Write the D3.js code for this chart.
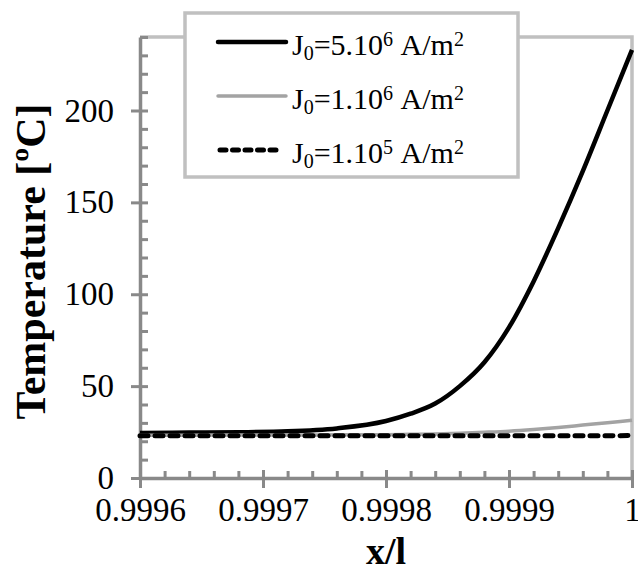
<!DOCTYPE html>
<html>
<head>
<meta charset="utf-8">
<script src="https://cdn.jsdelivr.net/npm/d3@7/dist/d3.min.js"></script>
<style>
  body { margin: 0; background: #fff; }
  svg text { font-family: 'Times New Roman', Tinos, 'Liberation Serif', serif; }
</style>
</head>
<body>
<div class="chart"></div>
<script>
// data
const xValues = [0.9996, 0.99964, 0.99968, 0.99972, 0.99976, 0.9998, 0.99982, 0.99984,
    0.99986, 0.99988, 0.9999, 0.99992, 0.99994, 0.99996, 0.99998, 1];
const tempJ5e6 = [24.5, 24.7, 24.9, 25.4, 27, 31, 35, 40.5, 50, 63, 82, 107, 136, 167, 200, 233];
const tempJ1e6 = [23.3, 23.3, 23.4, 23.4, 23.5, 23.6, 23.8, 24, 24.4, 24.9, 25.5, 26.4, 27.5, 28.8, 30.1, 31.4];
const tempJ1e5 = [23, 23, 23, 23, 23, 23, 23, 23, 23, 23, 23, 23, 23, 23, 23, 23.1];
const xTicks = [0.9996, 0.9997, 0.9998, 0.9999, 1];
const yTicks = [0, 50, 100, 150, 200];
const yMax = 240;
const legendMain = ['5.10', '1.10', '1.10'];
const legendExp = ['6', '6', '5'];

const margin = { top: 37, left: 140, bottom: 95, right: 6 };
const width = 638 - margin.left - margin.right;
const height = 573 - margin.top - margin.bottom;

const serif = "'Times New Roman', Tinos, 'Liberation Serif', serif";
const axisColor = '#898989';
const borderColor = '#c0c0c0';

const root = d3.select('.chart')
    .append('svg')
    .attr('width', 638)
    .attr('height', 573);

const svg = root.append('g')
    .attr('transform', `translate(${margin.left}, ${margin.top})`);

// scales
const xScale = d3.scaleLinear().domain([0.9996, 1]).range([0, width]);
const yScale = d3.scaleLinear().domain([0, yMax]).range([height, 0]);

const xMinor = d3.range(0, 21).map(i => 0.9996 + i * 0.00002);
const yMinor = d3.range(0, yMax + 1, 10);

// plot border (top + right)
svg.append('path')
    .attr('d', `M0,0H${width}V${height}`)
    .style('fill', 'none')
    .style('stroke', borderColor)
    .style('stroke-width', 3.5);

const styleAxis = g => {
    g.attr('font-family', serif).attr('font-size', 33);
    g.selectAll('.domain').style('stroke', axisColor).style('stroke-width', 3.5);
    g.selectAll('.tick line').style('stroke', axisColor).style('stroke-width', 3);
    g.selectAll('.tick text').style('fill', '#000').style('font-family', serif);
};

// x axis
svg.append('g')
    .attr('transform', `translate(0, ${height})`)
    .call(d3.axisBottom(xScale).tickValues(xMinor).tickSize(-7).tickFormat(''))
    .call(g => g.select('.domain').remove())
    .call(styleAxis);

svg.append('g')
    .attr('transform', `translate(0, ${height})`)
    .call(d3.axisBottom(xScale).tickValues(xTicks).tickSize(-8).tickFormat(''))
    .call(g => g.select('.domain').remove())
    .call(styleAxis);

svg.append('g')
    .attr('transform', `translate(0, ${height})`)
    .call(d3.axisBottom(xScale)
        .tickValues(xTicks)
        .tickSize(10)
        .tickSizeOuter(0)
        .tickPadding(10)
        .tickFormat(d => d === 1 ? '1' : d3.format('.4f')(d)))
    .call(styleAxis);

// y axis
svg.append('g')
    .call(d3.axisLeft(yScale).tickValues(yMinor).tickSize(-8).tickFormat(''))
    .call(g => g.select('.domain').remove())
    .call(styleAxis);

svg.append('g')
    .call(d3.axisLeft(yScale)
        .tickValues(yTicks)
        .tickSize(9)
        .tickSizeOuter(0)
        .tickPadding(17))
    .call(styleAxis);

// axis titles
svg.append('text')
    .attr('x', width / 2)
    .attr('y', height + 86)
    .attr('text-anchor', 'middle')
    .style('font-family', serif)
    .style('font-size', '38px')
    .style('font-weight', 'bold')
    .text('x/l');

svg.append('text')
    .attr('transform', `translate(${45 - margin.left}, ${height / 2 + 4}) rotate(-90)`)
    .attr('text-anchor', 'middle')
    .style('font-family', serif)
    .style('font-size', '42px')
    .style('font-weight', 'bold')
    .text('Temperature [ºC]');

// lines
const lineGen = d3.line()
    .x((d, i) => xScale(xValues[i]))
    .y(d => yScale(d))
    .curve(d3.curveMonotoneX);

const series = [
    { values: tempJ5e6, stroke: '#000', width: 4.5, dash: null },
    { values: tempJ1e6, stroke: '#a3a3a3', width: 3.5, dash: null },
    { values: tempJ1e5, stroke: '#000', width: 5, dash: '8,7' }
];

svg.append('g')
    .attr('class', 'line-chart')
    .selectAll('.line-series')
    .data(series)
    .enter()
    .append('path')
    .attr('class', 'line-series')
    .attr('d', d => lineGen(d.values))
    .style('fill', 'none')
    .style('stroke', d => d.stroke)
    .style('stroke-width', d => d.width)
    .style('stroke-linecap', d => d.dash ? 'round' : 'butt')
    .style('stroke-dasharray', d => d.dash);

// legend
const legend = root.append('g').attr('class', 'legend');

legend.append('rect')
    .attr('x', 185)
    .attr('y', 13)
    .attr('width', 333)
    .attr('height', 164)
    .style('fill', '#fff')
    .style('stroke', borderColor)
    .style('stroke-width', 3.5);

const rows = legend.selectAll('.legend-row')
    .data(series)
    .enter()
    .append('g')
    .attr('class', 'legend-row')
    .attr('transform', (d, i) => `translate(0, ${42 + i * 54})`);

rows.append('line')
    .attr('x1', d => d.dash ? 220 : 218)
    .attr('x2', d => d.dash ? 282 : 286)
    .style('stroke', d => d.stroke)
    .style('stroke-width', d => d.width)
    .style('stroke-linecap', 'round')
    .style('stroke-dasharray', d => d.dash ? '6,6.5' : null);

const label = rows.append('text')
    .attr('x', 292)
    .attr('y', 12.5)
    .style('font-family', serif)
    .style('font-size', '30px');

label.append('tspan').text('J');
label.append('tspan').attr('dy', 5).style('font-size', '20px').text('0');
label.append('tspan').attr('dy', -5).text((d, i) => '=' + legendMain[i]);
label.append('tspan').attr('dy', -9).style('font-size', '20px').text((d, i) => legendExp[i]);
label.append('tspan').attr('dy', 9).text('\u00a0A/m');
label.append('tspan').attr('dy', -9).style('font-size', '20px').text('2');
</script>
</body>
</html>
